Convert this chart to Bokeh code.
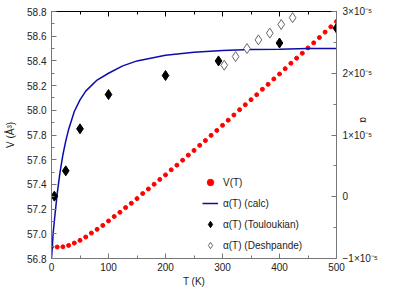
from bokeh.plotting import figure
from bokeh.models import (Range1d, LinearAxis, FixedTicker, Legend,
                          LegendItem, CustomJSTickFormatter, NumeralTickFormatter)
from bokeh.embed import file_html
from bokeh.resources import INLINE

# ---- data ----
T_V = list(range(0, 501, 10))
V = [56.893, 56.893, 56.895, 56.906, 56.925, 56.947, 56.974, 57.006, 57.036, 57.068,
     57.104, 57.140, 57.174, 57.212, 57.247, 57.285, 57.326, 57.363, 57.401, 57.440,
     57.477, 57.518, 57.556, 57.596, 57.637, 57.675, 57.716, 57.755, 57.797, 57.837,
     57.878, 57.920, 57.962, 58.005, 58.045, 58.086, 58.126, 58.170, 58.210, 58.254,
     58.294, 58.337, 58.381, 58.422, 58.462, 58.505, 58.546, 58.589, 58.633, 58.676,
     58.719]

T_calc = [0, 3, 6, 10, 15, 20, 25, 30, 40, 50, 60, 80, 100, 125, 150, 200, 250,
          300, 350, 400, 450, 500]
alpha_calc = [-1.01e-5, -0.58e-5, -0.30e-5, 0.05e-5, 0.40e-5, 0.68e-5, 0.90e-5,
              1.09e-5, 1.38e-5, 1.57e-5, 1.71e-5, 1.89e-5, 2.00e-5, 2.12e-5,
              2.20e-5, 2.29e-5, 2.34e-5, 2.37e-5, 2.385e-5, 2.39e-5, 2.40e-5, 2.40e-5]

T_toul = [5, 25, 50, 100, 200, 293, 400, 500]
alpha_toul = [0.01e-5, 0.42e-5, 1.10e-5, 1.655e-5, 1.963e-5, 2.20e-5, 2.49e-5, 2.73e-5]

T_desh = [303, 323, 343, 363, 383, 403, 423]
alpha_desh = [2.13e-5, 2.27e-5, 2.40e-5, 2.54e-5, 2.65e-5, 2.79e-5, 2.90e-5]

x_ticks = [0, 100, 200, 300, 400, 500]
x_minor = [50, 150, 250, 350, 450]
v_ticks = [56.8, 57.0, 57.2, 57.4, 57.6, 57.8, 58.0, 58.2, 58.4, 58.6, 58.8]
v_minor = [56.9, 57.1, 57.3, 57.5, 57.7, 57.9, 58.1, 58.3, 58.5, 58.7]
alpha_ticks = [-1e-5, 0, 1e-5, 2e-5, 3e-5]
alpha_minor = [-0.5e-5, 0.5e-5, 1.5e-5, 2.5e-5]

FONT = "Liberation Sans"
AX = "#777777"
TXT = "#222222"

p = figure(width=415, height=291, output_backend="svg", toolbar_location=None,
           x_range=Range1d(0, 500), y_range=Range1d(56.8, 58.8),
           min_border_left=51, min_border_right=79, min_border_top=11,
           min_border_bottom=33)
p.extra_y_ranges = {"alpha": Range1d(-1e-5, 3e-5)}
p.grid.visible = False
p.outline_line_color = None
p.background_fill_color = "white"


def style(ax, line_color=AX):
    ax.axis_line_color = line_color
    ax.major_tick_line_color = line_color
    ax.minor_tick_line_color = line_color
    ax.major_tick_in = 5
    ax.major_tick_out = 0
    ax.minor_tick_in = 3
    ax.minor_tick_out = 0
    ax.major_label_text_font = FONT
    ax.major_label_text_font_size = "10px"
    ax.major_label_text_color = TXT
    ax.axis_label_text_font = FONT
    ax.axis_label_text_font_size = "10px"
    ax.axis_label_text_font_style = "normal"
    ax.axis_label_text_color = TXT


xa = p.xaxis[0]
xa.ticker = FixedTicker(ticks=x_ticks, minor_ticks=x_minor)
xa.axis_label = "T (K)"
style(xa)
xa.major_label_standoff = 4
xa.axis_label_standoff = 2

ya = p.yaxis[0]
ya.ticker = FixedTicker(ticks=v_ticks, minor_ticks=v_minor)
ya.formatter = NumeralTickFormatter(format="0.0")
ya.axis_label = "V (Å³)"
style(ya)
ya.major_label_standoff = 5
ya.axis_label_standoff = 8

top = LinearAxis(ticker=FixedTicker(ticks=x_ticks, minor_ticks=x_minor))
style(top, line_color="black")
top.major_label_overrides = {t: "" for t in x_ticks}
top.major_label_standoff = 0
p.add_layout(top, "above")

ra = LinearAxis(y_range_name="alpha",
                ticker=FixedTicker(ticks=alpha_ticks, minor_ticks=alpha_minor))
ra.formatter = CustomJSTickFormatter(code="""
const m = Math.round(tick*1e5);
if (m == 0) { return "0"; }
return (m < 0 ? "\u22121" : String(m)) + "\u00d710\u207b\u2075";
""")
style(ra)
ra.major_label_standoff = 6
ra.axis_label = "α\u2003\u2003\u2003"
ra.axis_label_standoff = -23
p.add_layout(ra, "right")

# ---- glyphs ----
rv = p.scatter(T_V, V, marker="circle", size=4, fill_color="#ff0000",
               line_color="#ff0000")
rc = p.line(T_calc, alpha_calc, y_range_name="alpha", line_color="#0c0ca8",
            line_width=1.5)
rt = p.scatter(T_toul, alpha_toul, y_range_name="alpha", marker="diamond", size=10,
               fill_color="black", line_color="black")
rd = p.scatter(T_desh, alpha_desh, y_range_name="alpha", marker="diamond", size=10,
               fill_color="white", line_color="#666666", line_width=1)

legend = Legend(items=[
    LegendItem(label="V(T)", renderers=[rv]),
    LegendItem(label="α(T) (calc)", renderers=[rc]),
    LegendItem(label="α(T) (Touloukian)", renderers=[rt]),
    LegendItem(label="α(T) (Deshpande)", renderers=[rd]),
], location=(151, 3))
legend.border_line_color = None
legend.background_fill_alpha = 0
legend.padding = 0
legend.margin = 0
legend.spacing = 1
legend.glyph_width = 16
legend.glyph_height = 20
legend.label_height = 20
legend.label_standoff = 5
legend.label_text_font = FONT
legend.label_text_font_size = "10px"
legend.label_text_color = TXT
p.add_layout(legend, "center")

open("out.html", "w").write(file_html(p, INLINE))
